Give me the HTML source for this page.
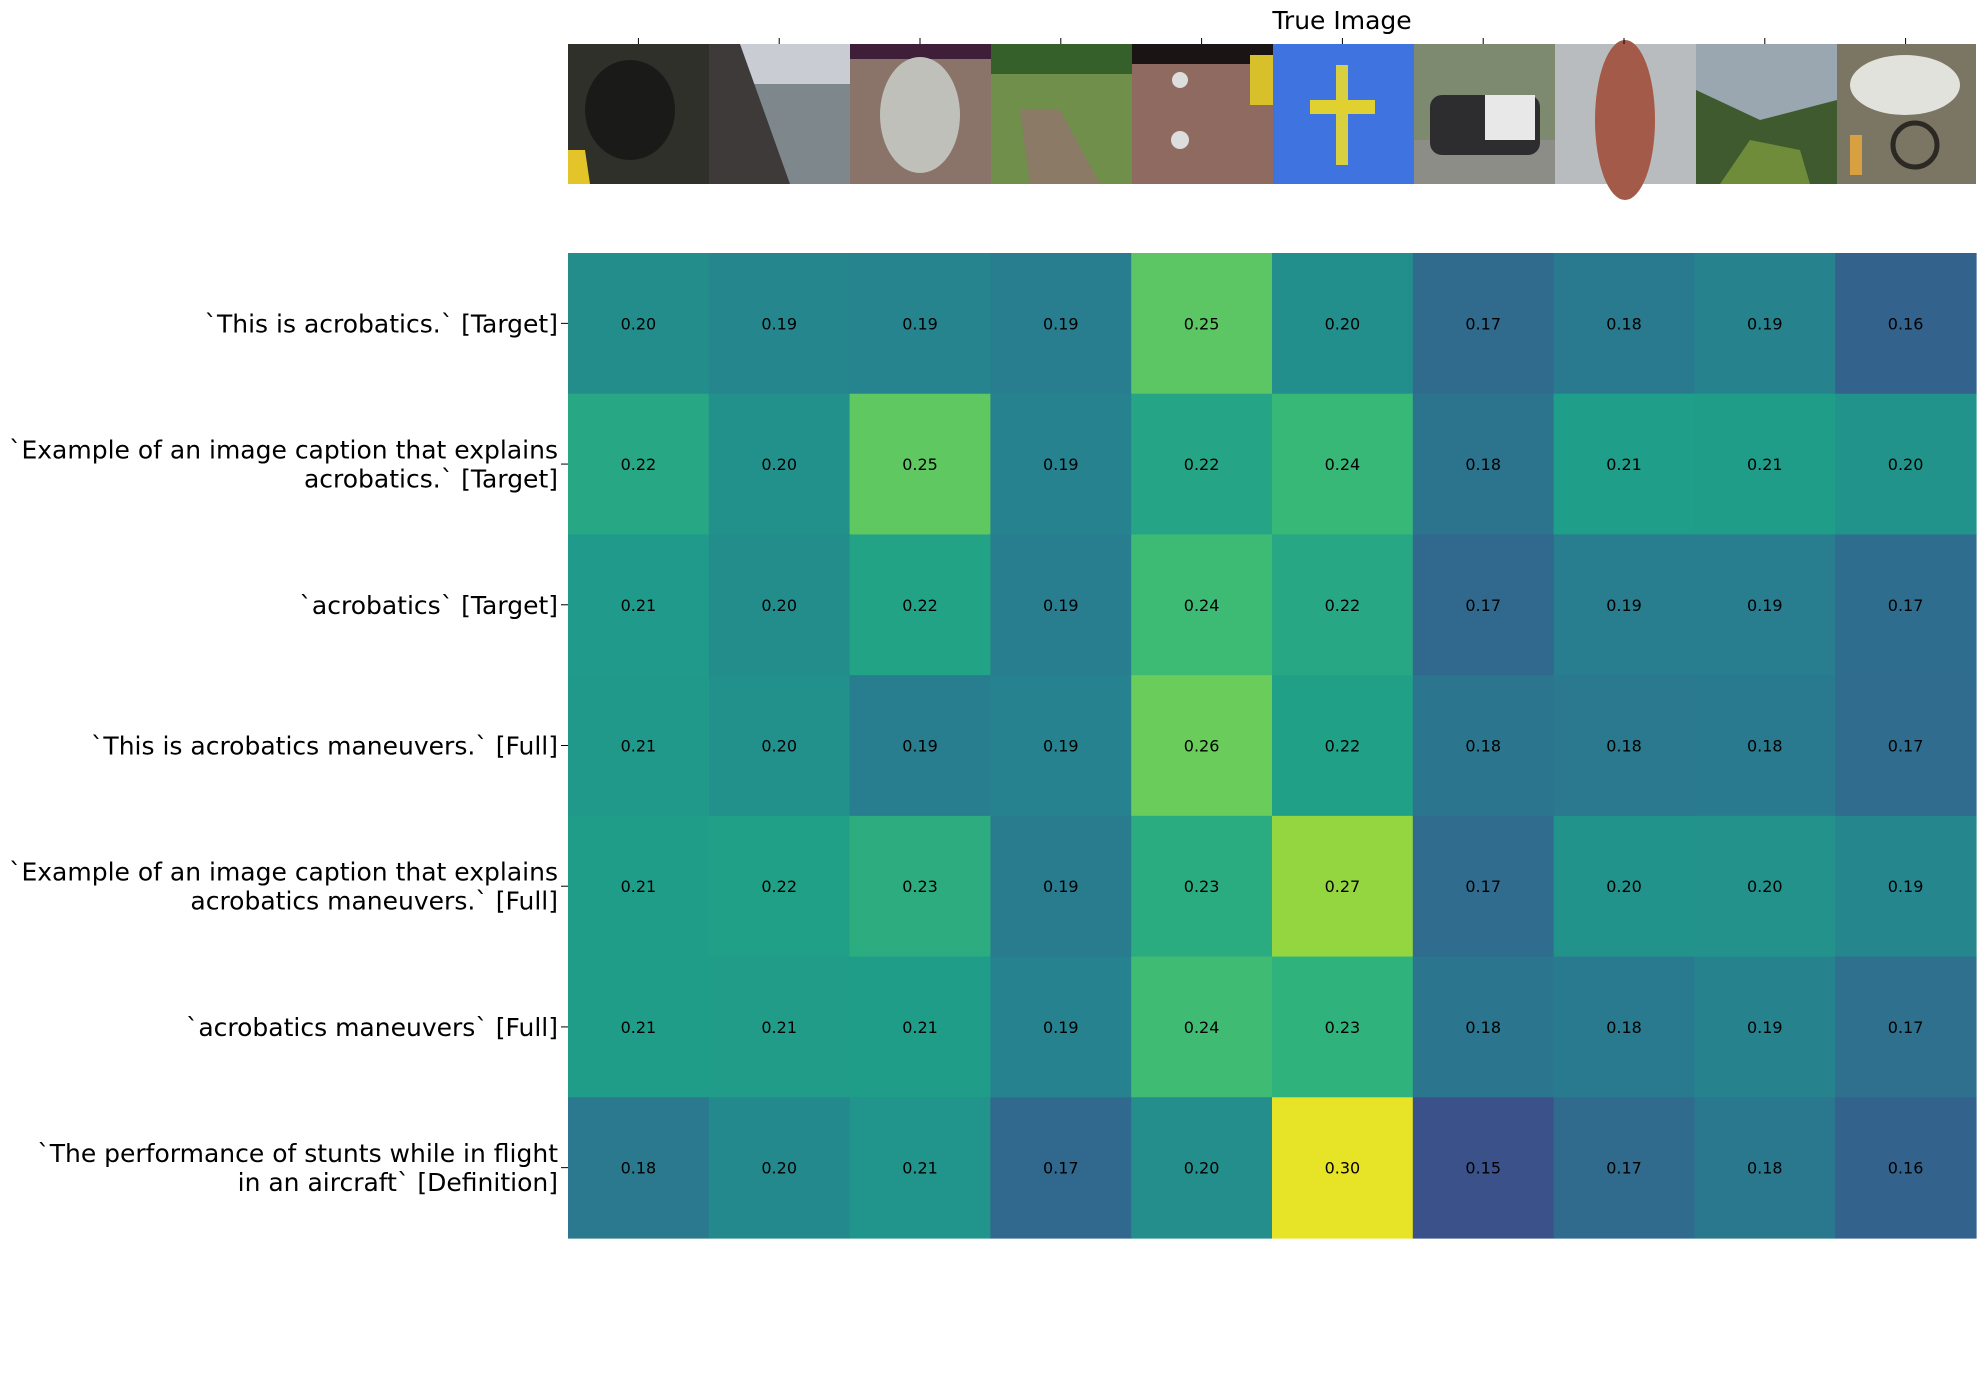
<!DOCTYPE html>
<html><head><meta charset="utf-8"><style>
html,body{margin:0;padding:0;background:#fff;}
svg{display:block;font-family:"DejaVu Sans","Liberation Sans",sans-serif;}
</style></head><body>
<svg id="chart" width="1985" height="1390" viewBox="0 0 1985 1390" xmlns="http://www.w3.org/2000/svg">
<text x="1342" y="29" font-size="25" text-anchor="middle">True Image</text>
<g id="images">
 <g><rect x="568" y="44" width="141" height="140" fill="#2f302a"/><ellipse cx="630" cy="110" rx="45" ry="50" fill="#1a1b18"/><polygon points="568,150 585,150 590,184 568,184" fill="#e3c52a"/></g>
 <g><rect x="709" y="44" width="141" height="140" fill="#7d878c"/><rect x="709" y="44" width="141" height="40" fill="#c9ccd3"/><polygon points="709,44 740,44 790,184 709,184" fill="#3e3a3a"/></g>
 <g><rect x="850" y="44" width="141" height="140" fill="#8a7368"/><rect x="850" y="44" width="141" height="15" fill="#3f1e3a"/><ellipse cx="920" cy="115" rx="40" ry="58" fill="#bfc0b9"/></g>
 <g><rect x="991" y="44" width="141" height="140" fill="#6f8f4a"/><rect x="991" y="44" width="141" height="30" fill="#35602a"/><polygon points="1020,110 1060,110 1100,184 1030,184" fill="#8a7a66"/></g>
 <g><rect x="1132" y="44" width="141" height="140" fill="#8e6a60"/><rect x="1132" y="44" width="141" height="20" fill="#1a1414"/><rect x="1250" y="55" width="23" height="50" fill="#d8c02a"/><circle cx="1180" cy="80" r="8" fill="#ddd"/><circle cx="1180" cy="140" r="9" fill="#ddd"/></g>
 <g><rect x="1273" y="44" width="141" height="140" fill="#3f74e0"/><rect x="1336" y="65" width="12" height="100" fill="#d8d040"/><rect x="1310" y="100" width="65" height="14" fill="#e0d030"/></g>
 <g><rect x="1414" y="44" width="141" height="140" fill="#7d8a70"/><rect x="1414" y="140" width="141" height="44" fill="#8d8d88"/><rect x="1430" y="95" width="110" height="60" rx="12" fill="#2d2d30"/><rect x="1485" y="95" width="50" height="45" fill="#e8e8e8"/></g>
 <g><rect x="1555" y="44" width="141" height="140" fill="#b9bcbe"/><ellipse cx="1625" cy="120" rx="30" ry="80" fill="#a35a48"/></g>
 <g><rect x="1696" y="44" width="141" height="140" fill="#9aa6b0"/><polygon points="1696,184 1696,90 1760,120 1837,100 1837,184" fill="#3f5a2e"/><polygon points="1720,184 1750,140 1800,150 1810,184" fill="#6e8c3a"/></g>
 <g><rect x="1837" y="44" width="139" height="140" fill="#7b7664"/><ellipse cx="1905" cy="85" rx="55" ry="30" fill="#e2e2dc"/><circle cx="1915" cy="145" r="22" fill="none" stroke="#2c2824" stroke-width="5"/><rect x="1850" y="135" width="12" height="40" fill="#d8a040"/></g>
</g>
<g id="xticks"></g>
<g id="cells"></g>
<g id="ylabels"></g>
</svg>
<script>
const rowLabels = [
 ["`This is acrobatics.` [Target]"],
 ["`Example of an image caption that explains","acrobatics.` [Target]"],
 ["`acrobatics` [Target]"],
 ["`This is acrobatics maneuvers.` [Full]"],
 ["`Example of an image caption that explains","acrobatics maneuvers.` [Full]"],
 ["`acrobatics maneuvers` [Full]"],
 ["`The performance of stunts while in flight","in an aircraft` [Definition]"]
];
const row0 = [0.200,0.194,0.193,0.187,0.252,0.202,0.171,0.184,0.192,0.164];
const row1 = [0.222,0.203,0.254,0.191,0.220,0.238,0.178,0.214,0.213,0.205];
const row2 = [0.211,0.200,0.218,0.188,0.240,0.222,0.169,0.187,0.187,0.173];
const row3 = [0.210,0.203,0.188,0.191,0.258,0.216,0.180,0.183,0.184,0.172];
const row4 = [0.213,0.216,0.228,0.186,0.226,0.272,0.172,0.205,0.204,0.194];
const row5 = [0.213,0.212,0.213,0.191,0.241,0.232,0.180,0.184,0.192,0.175];
const row6 = [0.183,0.197,0.206,0.168,0.201,0.298,0.151,0.171,0.182,0.164];
const values = [row0,row1,row2,row3,row4,row5,row6];
const vmin = 0.10, vmax = 0.305;
const X0=568, X1=1976, Y0=253, Y1=1238;
const nCols = row0.length, nRows = values.length;
const cw=(X1-X0)/nCols, ch=(Y1-Y0)/nRows;
const xPos = i => X0 + i*cw;
const yPos = j => Y0 + j*ch;
const VIR=[[68,1,84],[72,40,120],[62,74,137],[49,104,142],[38,130,142],[31,158,137],[53,183,121],[109,205,89],[180,222,44],[253,231,37]];
function viridis(t){t=Math.max(0,Math.min(1,t));const s=t*(VIR.length-1);const i=Math.min(Math.floor(s),VIR.length-2);const f=s-i;
 const c=VIR[i].map((a,k)=>Math.round(a+(VIR[i+1][k]-a)*f));return `rgb(${c[0]},${c[1]},${c[2]})`;}
const NS='http://www.w3.org/2000/svg';
const cells=document.getElementById('cells');
values.forEach((row,j)=>row.forEach((v,i)=>{
 const r=document.createElementNS(NS,'rect');
 
 
 r.setAttribute('x',xPos(i));r.setAttribute('y',yPos(j));
 r.setAttribute('width',cw+0.6);r.setAttribute('height',ch+0.6);
 r.setAttribute('fill',viridis((v-vmin)/(vmax-vmin)));
 cells.appendChild(r);
 const t=document.createElementNS(NS,'text');
 
 
 t.setAttribute('x',xPos(i)+cw/2);t.setAttribute('y',yPos(j)+ch/2+6);
 t.setAttribute('font-size','16');t.setAttribute('text-anchor','middle');
 t.textContent=v.toFixed(2);
 cells.appendChild(t);
}));
const xt=document.getElementById('xticks');
for(let i=0;i<nCols;i++){
 const l=document.createElementNS(NS,'line');
 
 
 l.setAttribute('x1',xPos(i)+cw/2);l.setAttribute('x2',xPos(i)+cw/2);
 l.setAttribute('y1',38);l.setAttribute('y2',44);l.setAttribute('stroke','#000');l.setAttribute('stroke-width','1');
 xt.appendChild(l);
}
const yl=document.getElementById('ylabels');
rowLabels.forEach((lines,j)=>{
 const cy=yPos(j)+ch/2;
 const l=document.createElementNS(NS,'line');
 
 
 l.setAttribute('x1',561);l.setAttribute('x2',568);l.setAttribute('y1',cy);l.setAttribute('y2',cy);
 l.setAttribute('stroke','#000');l.setAttribute('stroke-width','1');
 yl.appendChild(l);
 const n=lines.length;
 lines.forEach((s,k)=>{
  const t=document.createElementNS(NS,'text');
  
  
  t.setAttribute('x',558);t.setAttribute('y',cy+9+(k-(n-1)/2)*29);
  t.setAttribute('font-size','25');t.setAttribute('text-anchor','end');
  t.textContent=s;
  yl.appendChild(t);
 });
});
</script>
</body></html>
